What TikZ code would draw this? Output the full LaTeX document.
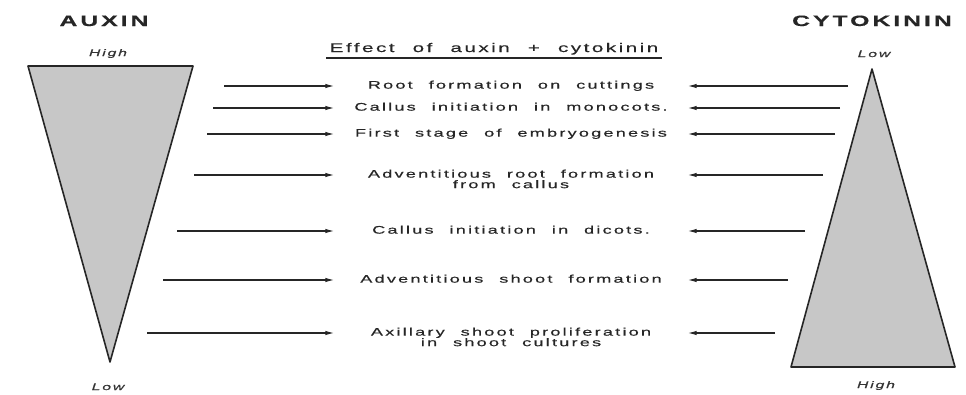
\documentclass[tikz,border=0pt]{standalone}
\usepackage{fontspec}
\setmainfont{Liberation Sans}[FakeStretch=1.65,LetterSpace=20,WordSpace=2.2,FakeBold=0.4]
\usetikzlibrary{arrows.meta}

\begin{document}
\begin{tikzpicture}[
    x=1pt, y=-1pt,
    >={Latex[length=9pt,width=4.5pt]},
    hormone/.style={
        font=\fontsize{15}{17}\selectfont\bfseries,
        text=black!85,
        anchor=base
    },
    level/.style={
        font=\fontsize{9.5}{11}\selectfont\itshape,
        text=black!80,
        anchor=base
    },
    effect/.style={
        font=\fontsize{11}{10}\selectfont,
        text=black!85,
        inner sep=0pt,
        minimum width=353pt,
        anchor=mid
    },
    wedge/.style={
        draw=black!85,
        line width=1.6pt,
        line join=round,
        fill=black!22
    },
    arrow/.style={
        ->,
        line width=1.2pt,
        draw=black!85
    }
]

    \useasboundingbox (0,0) rectangle (966,394);

    \draw[wedge] (28,66) -- (193,66) -- (110,362) -- cycle;
    \draw[wedge] (872,69) -- (955,367) -- (791,367) -- cycle;

    \node[hormone] (auxin) at (104,26) {AUXIN};
    \node[hormone] (cytokinin) at (872,26) {CYTOKININ};

    \node[level] (auxhigh) at (108,56) {High};
    \node[level] (auxlow) at (108,390) {Low};
    \node[level] (cytlow) at (874,57) {Low};
    \node[level] (cythigh) at (876,388) {High};

    \node[font=\fontsize{12.5}{14}\selectfont, text=black!85, anchor=base]
        (title) at (494,52) {Effect of auxin + cytokinin};
    \draw[line width=1.1pt, black!85]
        ([yshift=-6pt]title.base west) -- ([yshift=-6pt]title.base east);

    \node[effect] (e1) at (511,86) {Root formation on cuttings};
    \node[effect] (e2) at (511,108) {Callus initiation in monocots.};
    \node[effect] (e3) at (511,134) {First stage of embryogenesis};
    \node[effect] (e4) at (511,175) {Adventitious root formation};
    \node[effect, anchor=base] (e4b) at ([yshift=-10.5pt]e4.base) {from callus};
    \node[effect] (e5) at (511,231) {Callus initiation in dicots.};
    \node[effect] (e6) at (511,280) {Adventitious shoot formation};
    \node[effect] (e7) at (511,333) {Axillary shoot proliferation};
    \node[effect, anchor=base] (e7b) at ([yshift=-10.5pt]e7.base) {in shoot cultures};

    \foreach \row/\xl in {1/224,2/213,3/207,4/194,5/177,6/163,7/147}{
        \coordinate (a\row) at (\xl,0 |- e\row.mid west);
        \draw[arrow] (a\row) -- (e\row.mid west);
    }

    \foreach \row/\xr in {1/848,2/840,3/835,4/823,5/805,6/788,7/775}{
        \coordinate (c\row) at (\xr,0 |- e\row.mid east);
        \draw[arrow] (c\row) -- (e\row.mid east);
    }

\end{tikzpicture}
\end{document}
